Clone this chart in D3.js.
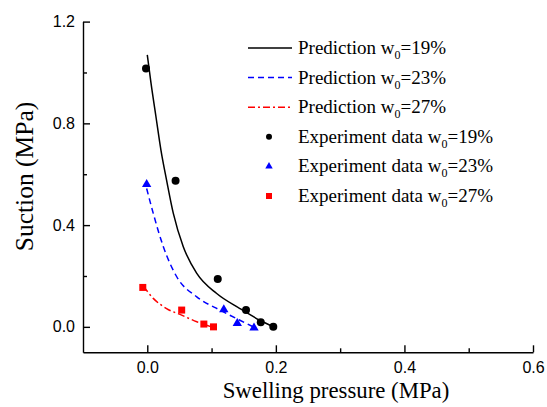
<!DOCTYPE html>
<html>
<head>
<meta charset="utf-8">
<script src="https://cdn.jsdelivr.net/npm/d3@7"></script>
<style>
  body { margin: 0; background: #fff; }
  svg { display: block; }
</style>
</head>
<body>
<div id="chart"></div>
<script>
// ---- data ----
const xTicks = [0.0, 0.2, 0.4, 0.6];
const xMinor = [0.1, 0.3, 0.5];
const yTicks = [0.0, 0.4, 0.8, 1.2];
const yMinor = [0.2, 0.6, 1.0];

// prediction curves (swelling pressure, suction)
const pred19 = [[0.0, 1.069], [0.0058, 0.958], [0.0135, 0.826], [0.0213, 0.694], [0.030, 0.577],
  [0.0405, 0.446], [0.056, 0.315], [0.077, 0.21], [0.108, 0.131], [0.144, 0.072], [0.175, 0.026], [0.196, 0.0]];
const pred23 = [[-0.001, 0.544], [0.0093, 0.446], [0.025, 0.315], [0.0458, 0.197], [0.077, 0.118],
  [0.113, 0.066], [0.144, 0.026], [0.165, 0.0]];
const pred27 = [[-0.006, 0.16], [0.0093, 0.112], [0.030, 0.072], [0.0535, 0.046], [0.077, 0.02], [0.100, 0.0]];

// experiment data
const exp19 = [[-0.002, 1.016], [0.044, 0.574], [0.1096, 0.188], [0.1536, 0.066], [0.1765, 0.018], [0.196, 0.0]];
const exp23 = [[-0.001, 0.56], [0.119, 0.068], [0.14, 0.014], [0.166, -0.004]];
const exp27 = [[-0.007, 0.155], [0.0535, 0.066], [0.088, 0.011], [0.103, 0.0]];

const legendLabels = [
  ['Prediction w', '=19%'],
  ['Prediction w', '=23%'],
  ['Prediction w', '=27%'],
  ['Experiment data w', '=19%'],
  ['Experiment data w', '=23%'],
  ['Experiment data w', '=27%']
];

// ---- layout ----
const width = 547, height = 407;
const margin = { left: 83, right: 14, top: 21.6, bottom: 54.7 };

const svg = d3.select('#chart').append('svg')
  .attr('width', width)
  .attr('height', height);

const x = d3.scaleLinear().domain([-0.1, 0.6]).range([margin.left, width - margin.right]);
const y = d3.scaleLinear().domain([-0.1, 1.2]).range([height - margin.bottom, margin.top]);

const fmt = d3.format('.1f');

// axes (ticks point inward)
svg.append('g')
  .attr('transform', `translate(0,${height - margin.bottom})`)
  .call(d3.axisBottom(x).tickValues(xTicks).tickFormat(fmt).tickSizeInner(-7).tickSizeOuter(0).tickPadding(9));
svg.append('g')
  .attr('transform', `translate(0,${height - margin.bottom})`)
  .call(d3.axisBottom(x).tickValues(xMinor).tickFormat('').tickSizeInner(-4).tickSizeOuter(0))
  .select('.domain').remove();

svg.append('g')
  .attr('transform', `translate(${margin.left},0)`)
  .call(d3.axisLeft(y).tickValues(yTicks).tickFormat(fmt).tickSizeInner(-7).tickSizeOuter(0).tickPadding(8));
svg.append('g')
  .attr('transform', `translate(${margin.left},0)`)
  .call(d3.axisLeft(y).tickValues(yMinor).tickFormat('').tickSizeInner(-4).tickSizeOuter(0))
  .select('.domain').remove();

svg.selectAll('.domain, .tick line')
  .attr('stroke', '#000')
  .attr('stroke-width', 1.4);
svg.selectAll('.tick text')
  .attr('fill', '#000')
  .style('font-family', '"Liberation Sans", Arial, sans-serif')
  .style('font-size', '16px');

// axis titles
svg.append('text')
  .attr('x', 336)
  .attr('y', 398)
  .attr('text-anchor', 'middle')
  .style('font-family', '"Liberation Serif", "Times New Roman", serif')
  .style('font-size', '22.8px')
  .text('Swelling pressure (MPa)');

svg.append('text')
  .attr('transform', 'translate(33,176.5) rotate(-90)')
  .attr('text-anchor', 'middle')
  .style('font-family', '"Liberation Serif", "Times New Roman", serif')
  .style('font-size', '25.5px')
  .text('Suction (MPa)');

// prediction lines
const line = d3.line()
  .x(d => x(d[0]))
  .y(d => y(d[1]))
  .curve(d3.curveMonotoneX);

const lineStyles = [
  { data: pred19, color: '#000', dash: null },
  { data: pred23, color: '#0000ff', dash: '6,4' },
  { data: pred27, color: '#ff0000', dash: '7,3,2,3' }
];

lineStyles.forEach(s => {
  svg.append('path')
    .datum(s.data)
    .attr('d', line)
    .attr('fill', 'none')
    .attr('stroke', s.color)
    .attr('stroke-width', 1.5)
    .attr('stroke-dasharray', s.dash);
});

// experiment markers
svg.selectAll('.c19')
  .data(exp19)
  .enter().append('circle')
  .attr('cx', d => x(d[0]))
  .attr('cy', d => y(d[1]))
  .attr('r', 4)
  .attr('fill', '#000');

const tri = d3.symbol().type(d3.symbolTriangle).size(38);
svg.selectAll('.t23')
  .data(exp23)
  .enter().append('path')
  .attr('d', tri)
  .attr('transform', d => `translate(${x(d[0])},${y(d[1])})`)
  .attr('fill', '#0000ff');

svg.selectAll('.s27')
  .data(exp27)
  .enter().append('rect')
  .attr('x', d => x(d[0]) - 3.5)
  .attr('y', d => y(d[1]) - 3.5)
  .attr('width', 7)
  .attr('height', 7)
  .attr('fill', '#ff0000');

// legend
const legend = svg.append('g').attr('transform', 'translate(248,48)');
const rowH = 29.6;

legendLabels.forEach((lab, i) => {
  const row = legend.append('g').attr('transform', `translate(0,${i * rowH})`);
  if (i < 3) {
    row.append('line')
      .attr('x1', 0).attr('x2', 44)
      .attr('stroke', lineStyles[i].color)
      .attr('stroke-width', 1.5)
      .attr('stroke-dasharray', lineStyles[i].dash);
  } else if (i === 3) {
    row.append('circle').attr('cx', 21).attr('r', 3).attr('fill', '#000');
  } else if (i === 4) {
    row.append('path')
      .attr('d', d3.symbol().type(d3.symbolTriangle).size(24))
      .attr('transform', 'translate(21,0)')
      .attr('fill', '#0000ff');
  } else {
    row.append('rect').attr('x', 18).attr('y', -3).attr('width', 6).attr('height', 6).attr('fill', '#ff0000');
  }
  const t = row.append('text')
    .attr('x', 50)
    .attr('y', 6)
    .style('font-family', '"Liberation Serif", "Times New Roman", serif')
    .style('font-size', '19px');
  t.append('tspan').text(lab[0]);
  t.append('tspan').attr('dy', 5).style('font-size', '12px').text('0');
  t.append('tspan').attr('dy', -5).text(lab[1]);
});
</script>
</body>
</html>
